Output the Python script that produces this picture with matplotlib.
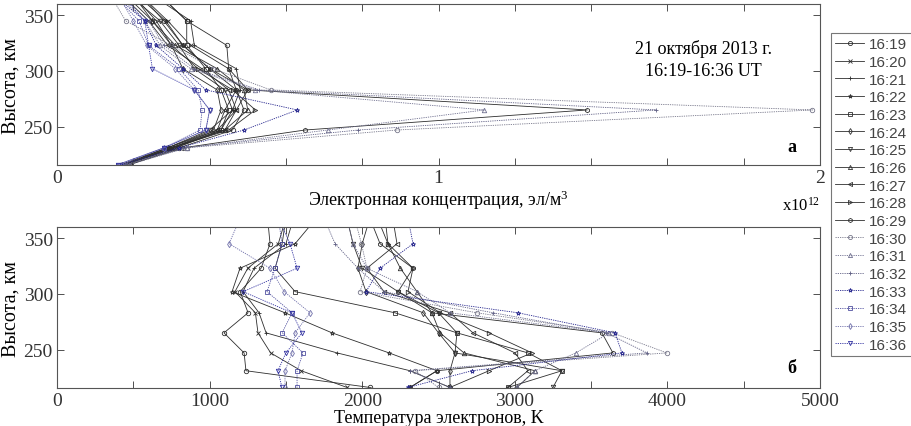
import matplotlib
matplotlib.use('Agg')
import matplotlib.pyplot as plt
from matplotlib.lines import Line2D

# =============================================================================
#   DATA
# =============================================================================

times = ['16:19', '16:20', '16:21', '16:22', '16:23', '16:24', '16:25', '16:26', '16:27',
         '16:28', '16:29', '16:30', '16:31', '16:32', '16:33', '16:34', '16:35', '16:36']

# altitude levels, km
alt_km = [201, 216, 231, 247, 265, 283, 302, 323, 345, 368]

# electron density, x10^12 el/m^3
ne_1619 = [0.11, 0.19, 0.32, 0.46, 0.49, 0.47, 0.45, 0.445, 0.34, 0.27]
ne_1620 = [0.10, 0.18, 0.31, 0.44, 0.47, 0.50, 0.45, 0.35, 0.29, 0.22]
ne_1621 = [0.12, 0.18, 0.30, 0.43, 0.46, 0.48, 0.47, 0.36, 0.35, 0.25]
ne_1622 = [0.11, 0.17, 0.30, 0.42, 0.44, 0.47, 0.40, 0.33, 0.285, 0.21]
ne_1623 = [0.10, 0.18, 0.31, 0.43, 0.45, 0.43, 0.39, 0.34, 0.34, 0.27]
ne_1624 = [0.11, 0.17, 0.29, 0.41, 0.43, 0.42, 0.33, 0.30, 0.25, 0.20]
ne_1625 = [0.10, 0.17, 0.29, 0.40, 0.46, 0.44, 0.36, 0.32, 0.27, 0.19]
ne_1626 = [0.11, 0.18, 0.30, 0.44, 0.50, 0.49, 0.42, 0.31, 0.25, 0.18]
ne_1627 = [0.10, 0.17, 0.29, 0.42, 0.47, 0.45, 0.38, 0.29, 0.24, 0.17]
ne_1628 = [0.11, 0.18, 0.30, 0.45, 0.52, 0.46, 0.37, 0.30, 0.26, 0.20]
ne_1629 = [0.12, 0.19, 0.33, 0.65, 1.39, 0.50, 0.40, 0.33, 0.28, 0.22]
ne_1630 = [0.10, 0.18, 0.34, 0.89, 1.98, 0.56, 0.41, 0.30, 0.18, 0.14]
ne_1631 = [0.11, 0.19, 0.34, 0.71, 1.12, 0.52, 0.35, 0.27, 0.23, 0.16]
ne_1632 = [0.10, 0.18, 0.33, 0.79, 1.57, 0.53, 0.36, 0.28, 0.24, 0.17]
ne_1633 = [0.09, 0.17, 0.32, 0.49, 0.63, 0.39, 0.33, 0.26, 0.23, 0.15]
ne_1634 = [0.09, 0.16, 0.28, 0.375, 0.38, 0.37, 0.32, 0.24, 0.215, 0.15]
ne_1635 = [0.09, 0.17, 0.28, 0.39, 0.40, 0.36, 0.31, 0.235, 0.20, 0.16]
ne_1636 = [0.08, 0.16, 0.28, 0.39, 0.40, 0.36, 0.25, 0.24, 0.23, 0.17]

# electron temperature, K
te_1619 = [2400, 2050, 1238, 1226, 1094, 1252, 1200, 1337, 1396, 1380]
te_1620 = [2100, 1900, 1600, 1400, 1317, 1300, 1166, 1250, 1450, 1500]
te_1621 = [2500, 2575, 2313, 1835, 1370, 1324, 1219, 1291, 1500, 1550]
te_1622 = [2600, 2313, 2490, 2176, 1802, 1494, 1147, 1199, 1560, 1700]
te_1623 = [3000, 2955, 3309, 3086, 2621, 2215, 1560, 1429, 1475, 1500]
te_1624 = [2800, 2575, 2575, 2608, 2500, 2400, 2025, 1972, 2000, 2050]
te_1625 = [3300, 3250, 3309, 2608, 2621, 2500, 2235, 2000, 1940, 1900]
te_1626 = [3100, 3014, 3132, 2667, 2510, 2457, 2359, 2250, 2169, 2150]
te_1627 = [2700, 2955, 3086, 3001, 2726, 2575, 2143, 2031, 2228, 2200]
te_1628 = [2450, 2575, 2831, 3113, 2831, 2510, 2300, 2333, 2169, 2100]
te_1629 = [2500, 2313, 2490, 3643, 3571, 2457, 2235, 2333, 2117, 2050]
te_1630 = [2700, 2500, 2346, 3997, 3640, 2752, 1986, 2031, 1995, 1950]
te_1631 = [2400, 3014, 3132, 3400, 3620, 2575, 2359, 2031, 1940, 1900]
te_1632 = [2600, 2575, 2313, 3866, 3600, 2857, 2143, 1972, 1822, 1750]
te_1633 = [2500, 2300, 2720, 3702, 3657, 3021, 2025, 2117, 2333, 2300]
te_1634 = [1450, 1573, 1573, 1612, 1475, 1540, 1376, 1429, 1475, 1450]
te_1635 = [1500, 1494, 1494, 1540, 1560, 1658, 1488, 1396, 1127, 1200]
te_1636 = [1450, 1474, 1448, 1500, 1605, 1540, 1219, 1573, 1527, 1450]

ne_all = [ne_1619, ne_1620, ne_1621, ne_1622, ne_1623, ne_1624, ne_1625, ne_1626, ne_1627,
          ne_1628, ne_1629, ne_1630, ne_1631, ne_1632, ne_1633, ne_1634, ne_1635, ne_1636]
te_all = [te_1619, te_1620, te_1621, te_1622, te_1623, te_1624, te_1625, te_1626, te_1627,
          te_1628, te_1629, te_1630, te_1631, te_1632, te_1633, te_1634, te_1635, te_1636]

# =============================================================================
#   STYLE
# =============================================================================

markers = ['o', 'x', '+', '*', 's', 'd', 'v', '^', '<', '>', 'h',
           'o', '^', '+', '*', 's', 'd', 'v']
colors = ['#2e2e2e'] * 11 + ['#77778a', '#707090', '#606085', '#22228c',
                             '#5050a0', '#7070aa', '#3030a0']
styles = ['-'] * 11 + [(0, (1.5, 1.2))] * 7

plt.rcParams['font.family'] = 'Liberation Serif'
plt.rcParams['mathtext.fontset'] = 'custom'
plt.rcParams['mathtext.rm'] = 'Liberation Serif'
plt.rcParams['mathtext.it'] = 'Liberation Serif:italic'

fig = plt.figure(figsize=(9.11, 4.27), dpi=100)
ax1 = fig.add_axes([0.0626, 0.611, 0.8375, 0.377])
ax2 = fig.add_axes([0.0626, 0.089, 0.8375, 0.377])


def draw_panel(ax, xdata):
    for i, xs in enumerate(xdata):
        ax.plot(xs, alt_km, linestyle=styles[i], color=colors[i], lw=0.6,
                marker=markers[i], ms=3.2, mfc='none', mew=0.6)
    ax.set_ylim(215.5, 360)
    ax.set_yticks([250, 300, 350])
    ax.tick_params(direction='in', top=True, right=True, length=5, width=0.6,
                   labelsize=14, colors='#333333', pad=3)
    for s in ax.spines.values():
        s.set_color('#555555')
        s.set_linewidth(0.8)
    ax.set_ylabel('Высота, км', fontsize=14.5, labelpad=2)


draw_panel(ax1, ne_all)
ax1.set_xlim(0, 2)
ax1.set_xticks([0.2 * k for k in range(11)])
ax1.set_xticklabels(['0', '', '', '', '', '1', '', '', '', '', '2'])
ax1.set_xlabel('Электронная концентрация, эл/м$^\\mathrm{3}$', fontsize=13, labelpad=1)
ax1.text(1.0, -0.19, 'x10$^\\mathrm{12}$', transform=ax1.transAxes, ha='right', va='top',
         fontsize=12)
ax1.text(0.963, 0.118, 'а', transform=ax1.transAxes, ha='center', va='center',
         fontsize=13, fontweight='bold')
ax1.text(0.847, 0.66, '21 октября 2013 г.\n16:19-16:36 UT', transform=ax1.transAxes,
         ha='center', va='center', fontsize=13, linespacing=1.35)

draw_panel(ax2, te_all)
ax2.set_xlim(0, 5000)
ax2.set_xticks(range(0, 5001, 500))
ax2.set_xticklabels(['0', '', '1000', '', '2000', '', '3000', '', '4000', '', '5000'])
ax2.set_xlabel('Температура электронов, K', fontsize=13, labelpad=0)
ax2.text(0.963, 0.13, 'б', transform=ax2.transAxes, ha='center', va='center',
         fontsize=13, fontweight='bold')

handles = [Line2D([], [], linestyle=styles[i], color=colors[i], lw=0.6, marker=markers[i],
                  ms=3, mfc='none', mew=0.6) for i in range(len(times))]
leg = fig.legend(handles, times, loc='upper left', bbox_to_anchor=(0.912, 0.921),
                 prop={'family': 'Liberation Sans', 'size': 11}, handlelength=1.9,
                 handletextpad=0.3, labelspacing=0.24, borderpad=0.3, borderaxespad=0,
                 fancybox=False, frameon=True)
leg.get_frame().set_edgecolor('#555555')
leg.get_frame().set_linewidth(0.8)
for t in leg.get_texts():
    t.set_color('#444444')

fig.savefig('out.png', dpi=100)
